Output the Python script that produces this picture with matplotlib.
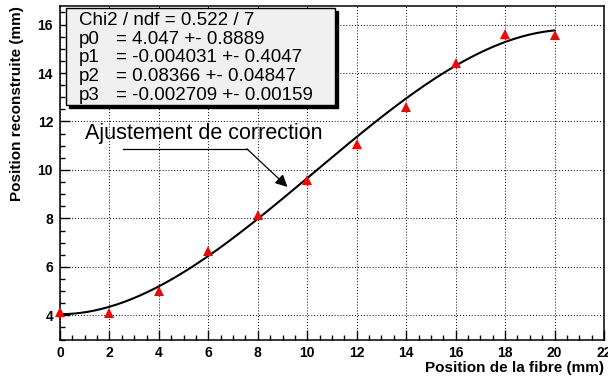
import numpy as np
import matplotlib
matplotlib.use("Agg")
import matplotlib.pyplot as plt
from matplotlib.patches import Rectangle
from matplotlib.ticker import MultipleLocator

plt.rcParams['font.family'] = ['Liberation Sans', 'DejaVu Sans']

# Measured points
pos_fibre = [0, 2, 4, 6, 8, 10, 12, 14, 16, 18, 20]
pos_reco = [4.12, 4.08, 4.99, 6.66, 8.13, 9.60, 11.06, 12.58, 14.42, 15.60, 15.56]

# Fit parameters (pol3) as printed in the stat box
fit_params = [4.047, -0.004031, 0.08366, -0.002709]
fit_errors = [0.8889, 0.4047, 0.04847, 0.00159]
chi2, ndf = 0.522, 7

W, H = 608, 379
fig = plt.figure(figsize=(W / 100, H / 100), dpi=100)
fig.patch.set_facecolor('white')

def fx(px):
    return px / W

def fy(py):
    return 1 - py / H

ax = fig.add_axes([fx(60), fy(340), fx(604) - fx(60), fy(5.7) - fy(340)])
ax.set_xlim(0, 22)
ax.set_ylim(2.98, 16.78)

# fit curve, drawn over the fitted range only
xs = np.linspace(0, 20, 200)
ax.plot(xs, np.polyval(fit_params[::-1], xs), color='black', lw=1.5, zorder=3)
ax.plot(pos_fibre, pos_reco, linestyle='none', marker='^', ms=7.5, color='red',
        markeredgewidth=0, zorder=4, clip_on=False)

# ROOT-like axes: ticks inside, only left/bottom
ax.xaxis.set_major_locator(MultipleLocator(2))
ax.xaxis.set_minor_locator(MultipleLocator(0.5))
ax.yaxis.set_major_locator(MultipleLocator(2))
ax.yaxis.set_minor_locator(MultipleLocator(0.5))
ax.tick_params(which='both', direction='in', top=False, right=False, width=1, color='black')
ax.tick_params(which='major', length=7.5, labelsize=10, pad=5)
ax.tick_params(axis='x', which='major', pad=4)
ax.tick_params(which='minor', length=3.8)
for lab in ax.get_xticklabels() + ax.get_yticklabels():
    lab.set_fontweight('bold')
ax.grid(True, which='major', color='black', linestyle=(0, (1, 2)), linewidth=0.7)
for sp in ax.spines.values():
    sp.set_linewidth(1.1)

fig.text(fx(604), fy(372), 'Position de la fibre (mm)', ha='right', va='baseline',
         fontsize=11, fontweight='bold')
fig.text(fx(17), fy(6), 'Position reconstruite (mm)', rotation=90, ha='center', va='top',
         fontsize=11, fontweight='bold')

# stat box with shadow
bx0, bx1, by0, by1 = 66, 335, 8, 105
shadow = Rectangle((fx(bx0 + 3), fy(by1 + 3)), fx(bx1) - fx(bx0), fy(by0) - fy(by1),
                   transform=fig.transFigure, facecolor='black', edgecolor='black', zorder=5)
box = Rectangle((fx(bx0), fy(by1)), fx(bx1) - fx(bx0), fy(by0) - fy(by1),
                transform=fig.transFigure, facecolor='#f0f0f0', edgecolor='black', lw=1, zorder=6)
fig.patches.extend([shadow, box])

fs = 13.5
fig.text(fx(79), fy(25), 'Chi2 / ndf = %g / %d' % (chi2, ndf), fontsize=fs, va='baseline', zorder=7)
for i, (p, e) in enumerate(zip(fit_params, fit_errors)):
    yb = 44 + i * 18.5
    fig.text(fx(79), fy(yb), 'p%d' % i, fontsize=fs, va='baseline', zorder=7)
    fig.text(fx(116), fy(yb), '= %s +- %s' % (repr(p), repr(e)), fontsize=fs, va='baseline', zorder=7)

# annotation with bent arrow
ax.text(1.0, 11.49, 'Ajustement de correction', fontsize=15.5, va='center', ha='left')
ax.plot([2.55, 7.56], [10.87, 10.87], color='black', lw=0.9)
ax.annotate('', xy=(9.2, 9.3), xytext=(7.56, 10.87),
            arrowprops=dict(arrowstyle='-|>', color='black', lw=0.9, mutation_scale=18,
                            shrinkA=0, shrinkB=0))

fig.savefig('out.png', dpi=100)
